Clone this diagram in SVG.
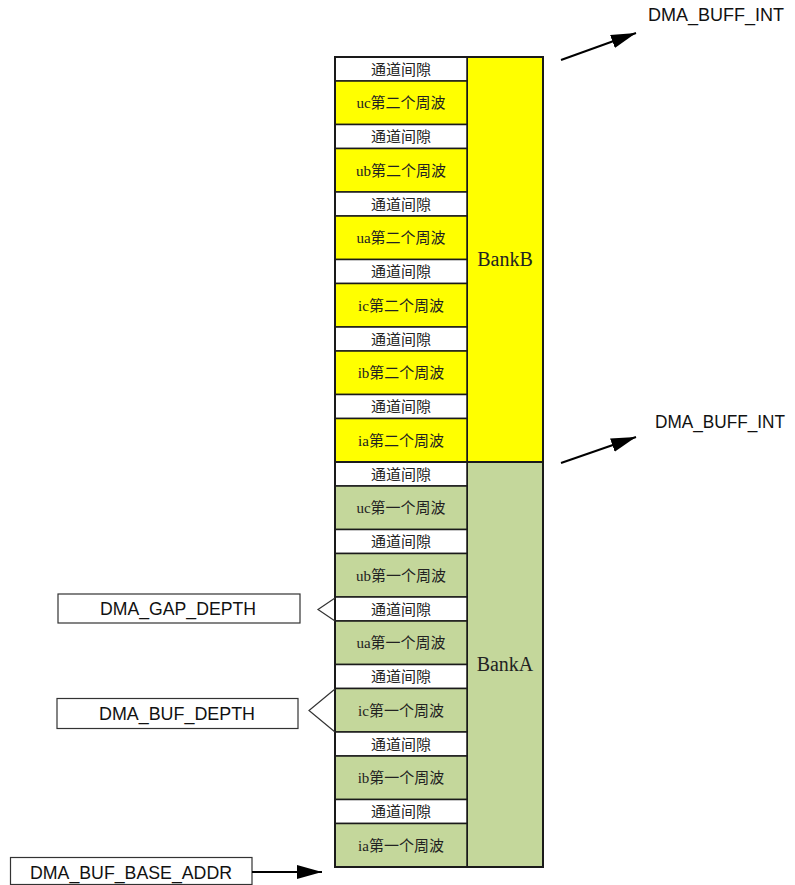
<svg xmlns="http://www.w3.org/2000/svg" width="795" height="885" viewBox="0 0 795 885">
<style>
.gap{fill:#ffffff;stroke:#1a1a1a;stroke-width:1.5}
.yb{fill:#ffff00;stroke:#1a1a1a;stroke-width:1.5}
.ga{fill:#c4d79b;stroke:#1a1a1a;stroke-width:1.5}
.bank{stroke:#1a1a1a;stroke-width:2}
.ct{font-family:"Liberation Serif","Noto Sans CJK SC",serif;font-size:15px;fill:#222;text-anchor:middle}
.bt{font-family:"Liberation Serif",serif;font-size:20px;fill:#222;text-anchor:middle}
.lt{font-family:"Liberation Sans",Arial,sans-serif;font-size:18px;fill:#111;text-anchor:middle}
.lbox{fill:#ffffff;stroke:#333;stroke-width:1.2}
.con{stroke:#000;stroke-width:2;fill:none}
.brk{stroke:#333;stroke-width:1.2;fill:none}
</style>
<defs>
<marker id="ah" markerUnits="userSpaceOnUse" markerWidth="26" markerHeight="16" refX="25" refY="7" orient="auto">
<path d="M0,0 L25,7 L0,14 z" fill="#000"/>
</marker>
</defs>

<g id="bankB">
<rect class="yb bank" x="467" y="57" width="76" height="405"/>
<text class="bt" x="505" y="266">BankB</text>
</g>
<g id="bankA">
<rect class="ga bank" x="467" y="462" width="76" height="405"/>
<text class="bt" x="505" y="671">BankA</text>
</g>

<g id="gap1"><rect class="gap" x="335" y="57" width="132" height="24"/><text class="ct" x="401" y="74.5">通道间隙</text></g>
<g id="uc2"><rect class="yb" x="335" y="81" width="132" height="43.5"/><text class="ct" x="401" y="108">uc第二个周波</text></g>
<g id="gap2"><rect class="gap" x="335" y="124.5" width="132" height="24"/><text class="ct" x="401" y="142">通道间隙</text></g>
<g id="ub2"><rect class="yb" x="335" y="148.5" width="132" height="43.5"/><text class="ct" x="401" y="175.5">ub第二个周波</text></g>
<g id="gap3"><rect class="gap" x="335" y="192" width="132" height="24"/><text class="ct" x="401" y="209.5">通道间隙</text></g>
<g id="ua2"><rect class="yb" x="335" y="216" width="132" height="43.5"/><text class="ct" x="401" y="243">ua第二个周波</text></g>
<g id="gap4"><rect class="gap" x="335" y="259.5" width="132" height="24"/><text class="ct" x="401" y="277">通道间隙</text></g>
<g id="ic2"><rect class="yb" x="335" y="283.5" width="132" height="43.5"/><text class="ct" x="401" y="310.5">ic第二个周波</text></g>
<g id="gap5"><rect class="gap" x="335" y="327" width="132" height="24"/><text class="ct" x="401" y="344.5">通道间隙</text></g>
<g id="ib2"><rect class="yb" x="335" y="351" width="132" height="43.5"/><text class="ct" x="401" y="378">ib第二个周波</text></g>
<g id="gap6"><rect class="gap" x="335" y="394.5" width="132" height="24"/><text class="ct" x="401" y="412">通道间隙</text></g>
<g id="ia2"><rect class="yb" x="335" y="418.5" width="132" height="43.5"/><text class="ct" x="401" y="445.5">ia第二个周波</text></g>

<g id="gap7"><rect class="gap" x="335" y="462" width="132" height="24"/><text class="ct" x="401" y="479.5">通道间隙</text></g>
<g id="uc1"><rect class="ga" x="335" y="486" width="132" height="43.5"/><text class="ct" x="401" y="513">uc第一个周波</text></g>
<g id="gap8"><rect class="gap" x="335" y="529.5" width="132" height="24"/><text class="ct" x="401" y="547">通道间隙</text></g>
<g id="ub1"><rect class="ga" x="335" y="553.5" width="132" height="43.5"/><text class="ct" x="401" y="580.5">ub第一个周波</text></g>
<g id="gap9"><rect class="gap" x="335" y="597" width="132" height="24"/><text class="ct" x="401" y="614.5">通道间隙</text></g>
<g id="ua1"><rect class="ga" x="335" y="621" width="132" height="43.5"/><text class="ct" x="401" y="648">ua第一个周波</text></g>
<g id="gap10"><rect class="gap" x="335" y="664.5" width="132" height="24"/><text class="ct" x="401" y="682">通道间隙</text></g>
<g id="ic1"><rect class="ga" x="335" y="688.5" width="132" height="43.5"/><text class="ct" x="401" y="715.5">ic第一个周波</text></g>
<g id="gap11"><rect class="gap" x="335" y="732" width="132" height="24"/><text class="ct" x="401" y="749.5">通道间隙</text></g>
<g id="ib1"><rect class="ga" x="335" y="756" width="132" height="43.5"/><text class="ct" x="401" y="783">ib第一个周波</text></g>
<g id="gap12"><rect class="gap" x="335" y="799.5" width="132" height="24"/><text class="ct" x="401" y="817">通道间隙</text></g>
<g id="ia1"><rect class="ga" x="335" y="823.5" width="132" height="43.5"/><text class="ct" x="401" y="850.5">ia第一个周波</text></g>

<g id="outline"><rect x="335" y="57" width="208" height="810" fill="none" stroke="#1a1a1a" stroke-width="2"/><line x1="335" y1="462" x2="543" y2="462" stroke="#1a1a1a" stroke-width="2"/></g>

<g id="int1"><text class="lt" x="716" y="21" textLength="136" lengthAdjust="spacingAndGlyphs">DMA_BUFF_INT</text></g>
<g id="int2"><text class="lt" x="720" y="428" textLength="130" lengthAdjust="spacingAndGlyphs">DMA_BUFF_INT</text></g>
<g id="gapdepth"><rect class="lbox" x="58" y="594" width="242" height="29"/><text class="lt" x="178" y="615" textLength="156" lengthAdjust="spacingAndGlyphs">DMA_GAP_DEPTH</text></g>
<g id="bufdepth"><rect class="lbox" x="57" y="698.5" width="241" height="30"/><text class="lt" x="177" y="720" textLength="156" lengthAdjust="spacingAndGlyphs">DMA_BUF_DEPTH</text></g>
<g id="baseaddr"><rect class="lbox" x="10.5" y="857.5" width="241.5" height="27"/><text class="lt" x="131" y="878.5" textLength="202" lengthAdjust="spacingAndGlyphs">DMA_BUF_BASE_ADDR</text></g>

<g id="connectors">
<line class="con" x1="561" y1="60" x2="636" y2="33" marker-end="url(#ah)"/>
<line class="con" x1="561" y1="463" x2="636" y2="437" marker-end="url(#ah)"/>
<line class="con" x1="252" y1="872" x2="322" y2="872" marker-end="url(#ah)"/>
<polyline class="brk" points="335,598 318,609.5 335,621"/>
<polyline class="brk" points="335,689 309,710.5 335,732"/>
</g>
</svg>
